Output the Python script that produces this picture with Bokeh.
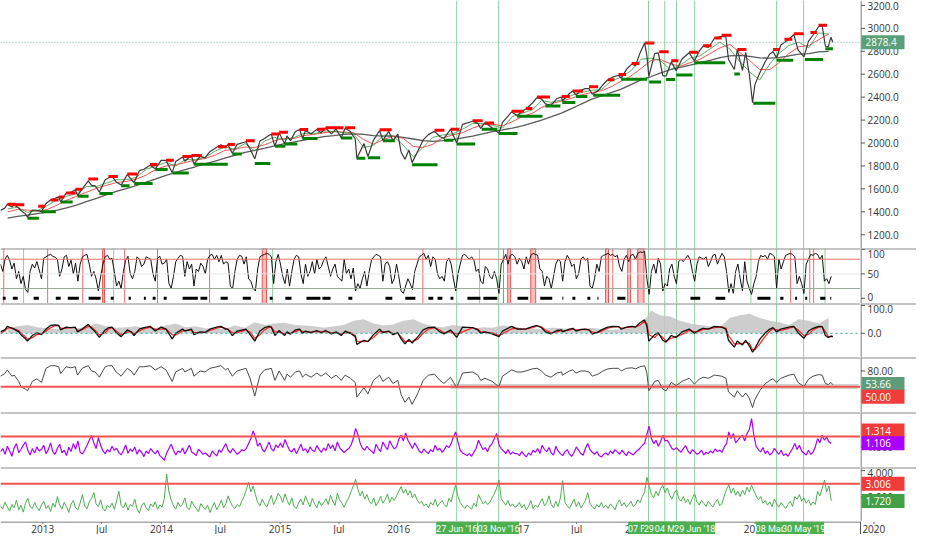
import pandas as pd
from bokeh.plotting import figure
from bokeh.models import Range1d, Span
from bokeh.core.properties import value
from bokeh.layouts import column, row
from bokeh.embed import file_html
from bokeh.resources import INLINE

# ---------------- DATA ----------------
price_dates = [
 "2012-08-24","2012-09-06","2012-09-14","2012-09-28","2012-10-05","2012-10-19","2012-10-26","2012-11-09","2012-11-15","2012-11-30","2012-12-14","2012-12-28",
 "2013-01-11","2013-01-25","2013-02-08","2013-02-19","2013-02-25","2013-03-14","2013-03-28","2013-04-11","2013-04-18","2013-05-02","2013-05-21","2013-05-31","2013-06-11","2013-06-24","2013-07-12","2013-07-22","2013-08-02","2013-08-15","2013-08-30","2013-09-18","2013-09-30","2013-10-09","2013-10-25","2013-11-08","2013-11-27","2013-12-13","2013-12-31",
 "2014-01-15","2014-02-03","2014-02-14","2014-03-07","2014-03-14","2014-04-03","2014-04-11","2014-04-30","2014-05-15","2014-05-30","2014-06-20","2014-07-03","2014-07-17","2014-07-24","2014-08-07","2014-08-22","2014-09-18","2014-10-01","2014-10-15","2014-10-31","2014-11-14","2014-11-28","2014-12-05","2014-12-16","2014-12-29",
 "2015-01-15","2015-01-22","2015-02-02","2015-02-17","2015-03-02","2015-03-11","2015-03-20","2015-04-06","2015-04-24","2015-05-07","2015-05-21","2015-06-08","2015-06-22","2015-07-08","2015-07-20","2015-08-05","2015-08-20","2015-08-25","2015-09-16","2015-09-28","2015-10-15","2015-11-03","2015-11-13","2015-12-01","2015-12-14","2015-12-29",
 "2016-01-08","2016-01-20","2016-02-01","2016-02-11","2016-02-29","2016-03-16","2016-04-01","2016-04-20","2016-05-06","2016-05-19","2016-06-08","2016-06-27","2016-07-15","2016-08-15","2016-08-31","2016-09-09","2016-09-22","2016-10-14","2016-11-04","2016-11-15","2016-12-13","2016-12-30",
 "2017-01-13","2017-01-26","2017-02-15","2017-03-01","2017-03-15","2017-03-27","2017-04-13","2017-05-01","2017-05-16","2017-05-18","2017-06-09","2017-06-19","2017-06-29","2017-07-14","2017-07-27","2017-08-08","2017-08-18","2017-09-05","2017-09-20","2017-10-05","2017-10-20","2017-11-07","2017-11-15","2017-12-01","2017-12-18","2017-12-29",
 "2018-01-12","2018-01-26","2018-02-02","2018-02-08","2018-02-26","2018-03-09","2018-03-23","2018-04-02","2018-04-18","2018-05-03","2018-05-21","2018-06-12","2018-06-28","2018-07-13","2018-07-25","2018-08-10","2018-08-29","2018-09-20","2018-10-03","2018-10-11","2018-10-29","2018-11-07","2018-11-23","2018-12-03","2018-12-14","2018-12-24","2018-12-31",
 "2019-01-15","2019-01-31","2019-02-15","2019-02-25","2019-03-08","2019-03-21","2019-04-15","2019-04-30","2019-05-13","2019-05-31","2019-06-14","2019-06-28","2019-07-15","2019-07-26","2019-08-05","2019-08-14","2019-08-22","2019-08-28"]
price_close = [
 1411,1432,1466,1441,1461,1433,1411,1380,1353,1416,1413,1402,
 1472,1503,1518,1530,1488,1563,1569,1593,1541,1598,1669,1631,1627,1573,1680,1695,1709,1661,1633,1725,1682,1656,1759,1771,1807,1775,1848,
 1848,1742,1838,1878,1841,1891,1815,1884,1870,1924,1963,1985,1958,1988,1910,1988,2011,1946,1862,2018,2039,2068,2075,1972,2090,
 1992,2063,2021,2100,2117,2040,2108,2080,2117,2088,2131,2080,2122,2046,2128,2100,2035,1868,1996,1881,2023,2109,2023,2102,2021,2078,
 1922,1859,1940,1829,1932,2027,2073,2102,2057,2040,2119,2001,2162,2190,2171,2128,2177,2133,2085,2180,2271,2239,
 2275,2297,2349,2396,2385,2341,2329,2388,2400,2365,2432,2453,2419,2459,2475,2474,2425,2457,2508,2552,2575,2591,2564,2642,2690,2674,
 2786,2873,2762,2581,2780,2786,2588,2582,2708,2630,2733,2787,2716,2801,2846,2833,2914,2931,2925,2728,2641,2814,2633,2790,2600,2351,2507,
 2610,2704,2776,2796,2743,2855,2905,2946,2812,2752,2887,2942,3014,3026,2844,2840,2923,2878.4]

# monthly moving averages (mid-month), Sep 2012 .. Aug 2019
ma_fast = [1425,1440,1395,1410,
 1455,1505,1535,1560,1620,1620,1650,1680,1680,1700,1770,1800,
 1830,1800,1855,1855,1875,1930,1965,1945,1995,1930,2020,2050,
 2030,2050,2085,2080,2105,2100,2090,2080,1960,1980,2070,2060,
 1980,1880,1960,2050,2070,2080,2120,2170,2170,2155,2130,2230,
 2260,2290,2370,2355,2375,2415,2440,2460,2465,2540,2575,2630,
 2730,2740,2720,2640,2680,2740,2760,2820,2880,2820,2710,2620,
 2550,2690,2780,2850,2880,2830,2960,2950]
ma_mid = [1400,1420,1415,1405,
 1420,1460,1500,1535,1570,1605,1630,1655,1665,1685,1720,1770,
 1800,1810,1830,1850,1865,1895,1935,1945,1965,1960,1985,2020,
 2040,2040,2065,2075,2090,2100,2095,2090,2030,1990,2030,2060,
 2040,1970,1960,1990,2045,2070,2090,2130,2160,2165,2150,2185,
 2230,2260,2310,2345,2365,2390,2420,2440,2455,2490,2540,2585,
 2650,2720,2730,2690,2670,2700,2730,2780,2830,2860,2790,2720,
 2640,2640,2700,2780,2840,2850,2900,2950]
ma_long = [1345,1360,1372,1385,
 1398,1415,1435,1458,1488,1518,1548,1578,1603,1628,1658,1688,
 1718,1743,1768,1793,1818,1843,1868,1893,1918,1935,1955,1975,
 1995,2010,2025,2040,2055,2065,2075,2080,2075,2065,2060,2060,
 2050,2035,2020,2015,2020,2030,2045,2060,2080,2100,2115,2130,
 2150,2175,2200,2230,2260,2300,2340,2380,2410,2440,2470,2510,
 2550,2580,2610,2640,2660,2680,2700,2720,2745,2760,2765,2755,
 2742,2740,2745,2760,2775,2780,2795,2800]

# pivot-high resistance segments (red) and pivot-low supports (green)
hi_start = ["2012-09-14","2012-10-05","2012-12-18","2013-01-25","2013-02-19","2013-03-14","2013-04-11","2013-05-21","2013-07-22","2013-09-18","2013-11-27",
 "2014-01-15","2014-03-07","2014-04-03","2014-06-24","2014-07-24","2014-09-18","2014-12-05","2014-12-29","2015-03-02","2015-04-24","2015-05-21","2015-07-20","2015-11-03",
 "2016-04-20","2016-06-08","2016-08-15","2016-09-22","2016-12-13","2017-01-26","2017-03-01","2017-05-16","2017-06-19","2017-08-08","2017-10-05","2017-11-07","2017-12-18",
 "2018-01-26","2018-03-12","2018-04-18","2018-06-12","2018-07-25","2018-08-29","2018-09-20","2018-11-07","2019-02-25","2019-04-01","2019-04-30","2019-06-20","2019-07-15"]
hi_end = ["2012-10-10","2012-11-05","2013-01-08","2013-02-18","2013-03-08","2013-04-12","2013-05-02","2013-06-20","2013-08-20","2013-10-18","2013-12-20",
 "2014-02-08","2014-04-05","2014-05-05","2014-07-20","2014-08-15","2014-10-15","2014-12-28","2015-01-25","2015-03-28","2015-05-20","2015-07-15","2015-08-20","2015-12-10",
 "2016-05-20","2016-07-05","2016-09-15","2016-10-20","2017-01-20","2017-02-15","2017-04-10","2017-06-10","2017-07-20","2017-09-05","2017-10-25","2017-11-30","2018-01-10",
 "2018-02-25","2018-04-10","2018-05-10","2018-07-10","2018-08-20","2018-09-20","2018-10-20","2018-12-05","2019-03-15","2019-04-25","2019-05-30","2019-07-10","2019-08-10"]
hi_level = [1466,1461,1448,1503,1530,1564,1597,1687,1709,1730,1813,
 1850,1883,1891,1968,1988,2019,2079,2093,2117,2120,2134,2133,2116,
 2111,2121,2194,2175,2278,2301,2401,2405,2453,2490,2552,2597,2694,
 2873,2795,2718,2791,2848,2917,2940,2815,2816,2905,2954,2964,3027]
lo_start = ["2012-11-15","2012-12-28","2013-02-25","2013-04-18","2013-06-24","2013-08-30","2013-10-09","2013-12-13","2014-02-05","2014-04-11","2014-08-07","2014-10-15","2014-12-16",
 "2015-01-15","2015-03-11","2015-07-07","2015-08-24","2015-09-28","2015-11-13","2016-02-11","2016-05-19","2016-06-27","2016-09-12","2016-11-04","2016-12-30",
 "2017-03-27","2017-05-18","2017-06-29","2017-08-21","2017-11-15","2018-02-09","2018-04-02","2018-05-03","2018-06-28","2018-10-29","2018-12-26","2019-03-08","2019-06-03","2019-08-05"]
lo_end = ["2012-12-20","2013-02-10","2013-04-03","2013-05-22","2013-08-04","2013-09-25","2013-12-05","2014-01-20","2014-03-26","2014-07-24","2014-09-05","2014-12-02","2015-01-17",
 "2015-02-23","2015-04-26","2015-08-11","2015-09-20","2015-11-05","2015-12-20","2016-04-29","2016-06-17","2016-08-23","2016-10-30","2016-12-31","2017-03-18",
 "2017-05-12","2017-06-27","2017-08-03","2017-11-12","2018-02-03","2018-03-18","2018-04-30","2018-06-22","2018-10-01","2018-11-15","2019-03-04","2019-04-28","2019-07-29","2019-08-28"]
lo_level = [1343,1400,1485,1536,1560,1627,1646,1768,1738,1814,1905,1821,1972,
 1992,2040,2044,1867,1872,2020,1810,2025,1991,2120,2084,2233,
 2322,2353,2406,2417,2557,2533,2553,2594,2699,2603,2346,2722,2728,2822]
last_price = 2878.4

# marked dates (vertical lines through all panes) and their labels
mark_dates = ["2016-06-27","2016-11-03","2018-02-07","2018-03-29","2018-05-04","2018-06-29","2019-03-08","2019-05-30"]
mark_labels = ["27 Jun '16","03 Nov '16","07 Feb '18","29 Mar '18","04 May '18","29 Jun '18","08 Mar '19","30 May '19"]

# pane 2: weekly oscillator (from 2012-08-24)
stoch_2012 = [70,55,80,88,78,60,72,40,55,30,45,18,12,55,70,62,75,58,40]
stoch_2013 = [82,85,88,90,86,84,80,45,60,85,88,65,78,50,72,35,70,85,88,90,70,45,55,40,15,45,70,85,88,80,82,55,25,35,20,55,78,86,50,40,55,85,80,65,70,85,82,80,50,35,82,86]
stoch_2014 = [70,72,80,30,20,45,75,82,88,86,45,75,60,70,25,60,55,72,65,50,80,88,90,80,88,75,88,70,75,72,25,20,55,80,88,86,70,85,40,35,20,15,60,85,88,90,92,90,85,30,75,90]
stoch_2015 = [70,45,30,60,25,55,80,88,85,50,30,70,45,55,75,50,80,60,65,78,85,65,45,60,70,45,40,35,80,50,60,40,62,15,30,20,40,55,25,55,78,85,90,88,85,35,70,75,65,30,40,70]
stoch_2016 = [45,15,10,25,40,30,18,55,70,85,88,92,80,88,65,85,80,50,40,45,35,75,82,70,40,15,50,70,88,90,85,80,85,78,55,60,35,30,65,60,45,40,55,40,10,70,80,90,70,88,90,85]
stoch_2017 = [70,82,75,60,85,70,88,92,90,88,60,55,25,45,40,20,45,70,80,75,35,75,88,80,65,70,40,50,80,85,78,82,25,20,40,70,55,85,88,90,92,88,90,85,88,65,55,80,88,75,88,90]
stoch_2018 = [80,92,95,94,96,40,8,55,70,50,82,70,15,30,25,60,70,45,30,75,80,75,82,88,80,55,35,70,85,82,80,85,65,75,88,90,70,82,92,85,55,12,30,10,55,70,40,15,75,35,20,8]
stoch_2019 = [30,45,75,88,85,88,80,92,90,85,20,80,60,75,88,90,92,90,85,30,45,30,10,70,80,90,88,92,90,80,88,35,40,30,45]
stoch = stoch_2012 + stoch_2013 + stoch_2014 + stoch_2015 + stoch_2016 + stoch_2017 + stoch_2018 + stoch_2019

sig_dash_start = ["2012-08-31","2012-10-01","2012-12-04","2013-02-10","2013-03-19","2013-05-22","2013-07-29","2013-09-22","2013-11-08","2013-12-05","2014-01-08","2014-03-07","2014-05-01","2014-07-02","2014-09-08","2014-11-30","2015-01-17","2015-03-23",
 "2015-05-11","2015-07-30","2015-11-21","2016-01-21","2016-04-01","2016-04-29","2016-06-08","2016-07-30","2016-09-17","2016-12-31","2017-03-11","2017-05-18","2017-06-18","2017-08-03","2017-09-03","2017-11-03",
 "2018-06-16","2018-09-01","2019-01-08","2019-03-19","2019-05-04","2019-06-04","2019-07-20","2019-08-20"]
sig_dash_end = ["2012-09-09","2012-10-16","2012-12-20","2013-02-25","2013-04-22","2013-06-28","2013-08-07","2013-09-29","2013-11-14","2013-12-14","2014-01-17","2014-04-23","2014-05-22","2014-07-24","2014-10-03","2014-12-09","2015-02-05","2015-05-05",
 "2015-06-05","2015-08-11","2015-12-12","2016-02-21","2016-04-16","2016-05-14","2016-06-17","2016-09-08","2016-10-30","2017-02-02","2017-04-17","2017-05-21","2017-06-27","2017-08-12","2017-09-06","2017-11-28",
 "2018-07-16","2018-10-01","2019-02-17","2019-03-29","2019-05-10","2019-06-10","2019-08-05","2019-08-23"]
red_line_dates = ["2012-09-03","2013-01-16","2013-05-04","2013-09-10","2013-12-20","2014-05-29","2016-03-15","2016-11-18","2017-10-20","2019-04-20","2019-06-18","2019-06-30"]
red_band_start = ["2013-07-04","2014-11-07","2016-12-01","2017-02-10","2017-09-28","2017-12-05","2018-01-05"]
red_band_end = ["2013-07-10","2014-11-20","2016-12-10","2017-02-25","2017-10-07","2017-12-14","2018-01-24"]
green_line_dates = ["2012-11-03","2013-08-07","2014-12-09","2016-09-05","2018-12-19","2019-08-04"]

# pane 3: momentum (black), signal (red) on price dates; shaded envelope monthly
mom = [5,12,25,18,15,5,-5,-20,-28,-8,2,-5,
 15,28,30,28,12,22,20,22,5,15,32,18,5,-15,12,20,22,2,-12,12,5,-8,15,20,25,8,22,
 15,-20,0,15,8,15,-5,5,3,15,22,25,15,15,-8,8,15,-5,-28,8,20,25,22,-8,10,
 -8,5,-3,12,15,0,8,2,10,2,10,-2,5,-8,8,0,-12,-40,-25,-30,-5,15,2,8,-5,2,
 -20,-38,-22,-35,-12,12,20,22,5,-2,12,-15,22,20,12,0,5,-2,-12,8,25,15,
 15,16,24,28,20,5,-2,10,12,5,15,18,8,14,15,12,-3,5,15,22,25,24,15,22,25,22,
 38,48,25,-28,-5,2,-25,-32,-8,-15,5,15,0,12,18,15,25,22,15,-25,-50,-28,-42,-25,-45,-68,-55,
 -22,0,15,20,5,15,22,25,2,-18,8,18,25,24,-8,-15,-10,-12]
mom_signal = [0,8,18,20,16,10,0,-12,-22,-16,-4,-3,
 8,20,27,28,18,18,20,20,10,12,25,22,10,-6,2,15,20,8,-6,4,6,-2,8,16,22,14,15,
 16,-5,-6,8,10,12,3,2,3,10,18,22,18,15,2,2,12,4,-18,-5,12,22,22,5,4,
 -2,0,0,6,13,6,5,4,7,5,7,2,2,-3,2,3,-7,-28,-30,-28,-15,6,6,6,0,-1,
 -12,-30,-28,-30,-20,0,15,20,12,2,6,-3,5,20,15,6,4,2,-8,-2,16,18,
 15,15,20,26,23,12,2,5,10,8,11,16,12,12,14,13,4,2,10,18,23,24,18,20,23,23,
 30,43,35,-5,-15,-2,-15,-28,-18,-12,-4,10,6,7,15,16,20,23,18,-8,-38,-38,-36,-32,-36,-58,-60,
 -38,-12,8,17,12,10,18,23,12,-8,-4,12,22,24,5,-12,-12,-11]
envelope = [20,25,30,22,
 18,15,20,18,22,35,25,20,22,25,18,20,
 28,35,22,25,18,15,15,28,20,40,30,35,
 38,30,28,25,20,25,30,45,50,35,28,32,
 45,50,35,25,22,30,25,15,22,20,28,25,
 18,15,15,20,18,15,12,20,15,12,15,18,
 30,82,65,60,45,35,30,25,22,55,65,70,
 55,45,40,30,50,45,35,55]

# pane 4: strength index on price dates
rsi = [70,75,82,70,72,60,50,45,42,60,65,58,
 85,90,90,88,75,88,86,88,72,85,90,80,78,68,88,90,90,78,70,85,80,72,88,88,90,82,88,
 82,60,78,85,78,85,70,80,78,85,88,90,82,85,70,80,85,65,32,72,82,84,85,62,80,
 62,74,68,78,80,68,74,68,76,70,76,66,72,62,72,66,58,30,48,36,62,72,60,68,56,62,
 35,20,30,16,38,62,72,74,62,56,68,48,76,78,72,62,66,60,50,70,82,78,
 78,80,84,85,80,72,68,76,78,72,80,82,76,80,80,78,70,74,80,84,85,85,80,85,86,84,
 88,90,76,42,60,62,45,42,58,52,60,66,55,64,68,66,72,70,66,40,30,42,30,38,28,10,25,
 42,55,62,65,58,66,72,74,58,50,64,70,73,72,56,54,58,53.66]
rsi_level = 50.0
rsi_box = ("2016-06-08", "2019-11-15", 45.7, 55.0)

# pane 5: weekly ratio (purple)
pur_2012 = [0.85,0.95,0.78,1.02,0.88,0.72,0.98,1.10,0.83,0.92,1.05,1.15,0.90,0.76,0.95,0.82,1.00,0.88,0.93]
pur_2013 = [1.05,0.80,0.92,1.12,0.85,0.78,0.96,1.08,0.82,0.90,0.74,0.99,0.86,1.10,0.93,1.18,0.84,0.79,0.91,1.04,1.20,1.35,1.12,0.95,1.28,1.05,0.88,0.80,0.92,0.85,1.02,0.90,0.96,0.83,0.76,0.89,1.06,0.81,0.94,0.86,1.00,0.78,0.92,0.84,0.71,0.88,0.80,0.95,0.86,0.79,0.90,0.74]
pur_2014 = [0.68,0.60,0.82,0.95,1.08,0.90,0.76,0.88,0.83,0.97,0.79,0.92,1.05,0.85,0.80,0.74,0.93,0.86,0.78,0.82,0.75,0.70,0.88,0.80,0.73,0.91,0.84,0.98,1.10,0.90,0.82,0.95,0.87,0.78,0.83,0.92,0.88,0.95,1.10,1.25,1.48,1.30,1.02,1.12,0.93,0.85,1.00,1.15,0.94,0.88,1.06,0.98]
pur_2015 = [1.12,0.98,1.22,1.05,0.90,0.85,0.96,0.80,0.93,1.08,0.88,0.95,0.82,1.00,0.90,0.86,1.04,0.92,0.84,0.97,0.89,1.10,0.95,1.06,0.88,1.15,0.98,0.90,0.83,0.90,0.95,1.05,1.25,1.55,1.38,1.12,0.96,0.90,1.02,0.93,0.88,0.80,1.08,0.95,0.86,1.15,1.02,0.92,1.18,1.05,0.94,1.00]
pur_2016 = [1.22,1.35,1.18,1.42,1.20,1.08,0.95,1.12,1.00,0.88,0.82,0.94,0.86,0.80,0.92,0.85,1.05,0.90,0.96,0.84,0.92,1.04,0.98,1.10,1.30,1.45,1.15,0.90,0.82,0.78,0.74,0.80,0.72,0.85,0.96,1.20,1.05,0.92,0.98,0.86,1.02,1.10,1.25,1.40,1.08,0.94,0.88,0.80,0.92,0.78,0.84,0.80]
pur_2017 = [0.80,0.74,0.86,0.78,0.70,0.82,0.76,0.90,0.84,0.95,0.80,1.05,0.92,0.86,0.98,0.82,0.76,1.02,0.88,0.80,0.74,0.85,0.92,0.78,0.72,0.84,1.00,0.90,0.80,0.75,0.96,1.10,0.92,0.84,0.78,0.86,0.74,0.70,0.78,0.82,0.76,0.88,0.80,0.92,0.85,0.78,0.90,0.82,0.74,0.86,0.80,0.76]
pur_2018 = [0.84,0.90,0.96,1.05,1.10,1.38,1.62,1.25,1.10,1.20,1.02,1.15,1.35,1.18,1.20,1.08,0.95,0.92,0.98,0.90,0.84,0.95,1.04,0.88,0.80,0.92,0.85,0.78,0.82,0.90,0.76,0.84,0.80,0.88,0.82,0.94,0.86,0.90,0.84,1.00,1.10,1.45,1.25,1.40,1.12,1.20,1.30,1.35,1.18,1.40,1.52,1.85]
pur_2019 = [1.35,1.02,0.92,0.85,0.98,0.80,0.88,0.76,0.82,0.96,0.86,0.78,0.90,0.74,0.80,0.72,0.84,0.95,1.10,0.92,1.05,0.88,0.82,0.76,0.90,0.78,0.84,1.00,1.25,1.12,1.35,1.20,1.30,1.15,1.106]
purple = pur_2012 + pur_2013 + pur_2014 + pur_2015 + pur_2016 + pur_2017 + pur_2018 + pur_2019
purple_level = 1.314

# pane 6: weekly ratio (green)
grn_2012 = [1.35,1.10,1.62,1.28,0.95,1.45,1.20,1.78,1.05,1.40,0.88,1.55,1.92,1.30,1.15,1.60,1.25,0.98,1.42]
grn_2013 = [1.70,1.15,1.38,0.92,1.55,1.25,2.05,1.40,1.10,1.62,1.30,0.85,1.48,1.75,1.20,1.05,1.58,2.20,1.35,1.12,1.65,1.90,2.35,1.50,1.28,1.80,1.15,0.95,1.40,1.22,1.55,1.08,1.72,2.45,1.38,1.18,1.60,1.02,1.45,1.30,1.85,1.12,0.80,1.35,1.58,1.20,0.98,1.50,1.28,1.65,1.10,1.42]
grn_2014 = [1.25,1.90,3.75,2.40,1.80,1.35,1.10,1.62,1.28,1.48,1.95,1.20,1.05,1.70,1.38,1.15,0.90,1.52,1.25,1.08,1.40,0.85,1.22,1.60,1.05,1.35,1.78,1.20,1.50,2.10,1.65,1.30,1.15,1.45,1.28,1.70,2.05,2.55,3.13,2.40,2.85,2.20,1.60,1.35,1.85,1.50,1.25,1.70,2.15,1.45,1.80,2.30]
grn_2015 = [2.05,1.60,2.25,1.75,1.40,1.95,1.30,1.15,1.58,1.85,1.42,2.10,1.65,1.28,1.90,1.50,1.20,1.72,1.35,1.60,1.88,1.45,2.15,1.70,1.38,2.30,1.80,1.55,1.25,1.65,1.95,2.40,2.85,3.35,2.60,2.10,2.45,1.85,2.20,1.70,1.50,1.95,1.35,1.65,2.05,1.55,1.80,2.25,1.60,2.00,1.75,2.10]
grn_2016 = [2.45,2.80,2.30,2.60,2.15,2.50,1.95,2.25,1.80,1.55,1.70,1.35,1.50,1.20,1.62,1.40,1.85,1.30,1.55,1.75,1.45,1.25,1.90,1.65,2.35,2.90,2.05,1.60,1.35,1.15,1.40,1.25,1.10,1.55,1.30,2.20,1.85,1.50,1.70,1.45,1.60,1.95,2.25,2.70,3.30,1.90,1.65,1.40,1.75,1.30,1.50,1.25]
grn_2017 = [1.35,1.60,1.20,1.45,1.05,1.30,1.75,1.15,1.40,1.25,1.55,1.90,1.35,1.60,2.10,1.45,1.20,1.70,1.30,1.95,3.25,1.60,1.35,1.15,1.50,1.85,1.30,1.65,1.20,1.45,1.75,2.35,1.55,1.30,1.10,1.45,1.25,1.60,1.20,1.40,1.15,1.50,1.30,1.05,1.55,1.80,1.35,1.60,1.25,1.45,1.70,1.30]
grn_2018 = [1.45,1.80,1.60,2.05,2.40,3.50,2.85,2.20,1.95,2.45,2.10,2.65,2.90,2.35,2.70,2.15,1.85,2.30,2.55,1.90,1.70,2.05,1.60,1.85,1.45,1.95,2.25,1.65,1.40,1.75,1.55,1.30,1.70,1.45,1.25,1.60,1.85,1.35,1.50,2.10,2.60,2.95,2.30,2.70,2.15,2.45,2.05,2.55,2.20,2.75,2.40,2.90]
grn_2019 = [2.50,2.10,1.80,2.05,1.55,1.75,1.40,1.65,1.30,1.85,1.50,1.25,1.60,1.35,1.15,1.45,1.70,1.30,2.05,1.85,2.20,1.70,1.95,1.55,1.80,1.40,1.65,1.45,2.45,2.10,2.65,3.30,2.40,2.85,1.72]
green = grn_2012 + grn_2013 + grn_2014 + grn_2015 + grn_2016 + grn_2017 + grn_2018 + grn_2019
green_level = 3.006

tick_dates = ["2013-01-01","2013-07-01","2014-01-01","2014-07-01","2015-01-01","2015-07-01","2016-01-01","2016-07-01",
              "2017-01-01","2017-07-01","2018-01-01","2018-07-01","2019-01-01","2019-07-01","2020-01-01"]
tick_labels = ["2013","Jul","2014","Jul","2015","Jul","2016","Jul","2017","Jul","2018","Jul","2019","Jul","2020"]

# ---------------- HELPERS ----------------
def ms(s):
    return pd.Timestamp(s).value / 1e6

def msl(lst):
    return [ms(s) for s in lst]

def weekly(n):
    return [d.value / 1e6 for d in pd.date_range("2012-08-24", periods=n, freq="7D")]

FONT = "Open Sans"
BFONT = "Roboto"
FW = 860
SW = 56
X0, X1 = ms("2012-08-24"), ms("2019-11-21")
XR = Range1d(start=X0, end=X1)
VLINE = "#8fd19e"
AXC = "#555555"
SEP = "#8a8a8a"

def base_fig(w, h, xr, yr):
    p = figure(frame_width=w, frame_height=h, x_range=xr, y_range=yr,
               x_axis_location=None, y_axis_location=None,
               output_backend="svg", toolbar_location=None,
               min_border=0, min_border_left=0, min_border_right=0,
               min_border_top=0, min_border_bottom=0)
    p.grid.visible = False
    p.outline_line_color = None
    return p

def panel(h, y0, y1, sep=True):
    p = base_fig(FW, h, XR, Range1d(y0, y1))
    if sep:
        p.add_layout(Span(location=y1, dimension="width", line_color=SEP, line_width=2))
    for d in mark_dates:
        p.add_layout(Span(location=ms(d), dimension="height", line_color=VLINE,
                          line_width=1, level="underlay"))
    return p

def side(p, ticks, fmt, sep=True):
    y0, y1 = p.y_range.start, p.y_range.end
    h = p.frame_height
    s = base_fig(SW, h, Range1d(0, SW), p.y_range)
    s.segment(x0=[0.5], y0=[y0], x1=[0.5], y1=[y1], line_color=AXC, line_width=1)
    pad_top = 5.5 * (y1 - y0) / h
    pad_bot = 7.0 * (y1 - y0) / h
    ty = [min(max(t, y0 + pad_bot), y1 - pad_top) for t in ticks]
    s.segment(x0=[0.5] * len(ticks), y0=ticks, x1=[4.5] * len(ticks), y1=ticks, line_color=AXC, line_width=1)
    s.text(x=[7] * len(ticks), y=ty, text=[fmt % t for t in ticks], text_align="left",
           text_baseline="middle", text_font=value(FONT), text_font_size="10px", text_color="#333333")
    if sep:
        s.add_layout(Span(location=y1, dimension="width", line_color=SEP, line_width=2))
    return s

def badge(s, y, text, color):
    s.rect(x=[22.5], y=[y], width=[43], height=[14], height_units="screen",
           fill_color=color, line_color=None)
    s.text(x=[5], y=[y], text=[text], text_align="left", text_baseline="middle",
           text_font=value(FONT), text_font_size="10px", text_color="white")

# ---------------- MAIN PANE ----------------
pd_ms = msl(price_dates)
m_ms = [d.value / 1e6 + 14 * 86400000 for d in pd.date_range("2012-09-01", periods=len(ma_long), freq="MS")]

p1 = panel(248, 1080, 3243, sep=False)
p1.line(m_ms, ma_long, color="#5a5a5a", line_width=1.3)
p1.line(m_ms, ma_mid, color="#e53935", line_width=1, alpha=0.85)
p1.line(m_ms, ma_fast, color="#43a047", line_width=1, alpha=0.85)
p1.line(pd_ms, price_close, color="#3a3a3a", line_width=1.2)
p1.segment(x0=msl(hi_start), y0=hi_level, x1=msl(hi_end), y1=hi_level, line_color="#ff0000", line_width=3)
p1.segment(x0=msl(lo_start), y0=lo_level, x1=msl(lo_end), y1=lo_level, line_color="#008000", line_width=3)
p1.add_layout(Span(location=last_price, dimension="width", line_color="#6fae98", line_width=1, line_dash="1 2"))
s1 = side(p1, list(range(1200, 3201, 200)), "%.1f", sep=False)
badge(s1, last_price, "2878.4", "#5a9f78")

# ---------------- PANE 2 ----------------
w_st = weekly(len(stoch))
p2 = panel(55, -10.7, 102)
p2.quad(left=msl(red_band_start), right=msl(red_band_end), bottom=-10.7, top=102,
        fill_color="#f48a8a", fill_alpha=0.55, line_color="#ef5350", line_width=1)
p2.segment(x0=msl(red_line_dates), y0=-10.7, x1=msl(red_line_dates), y1=102, line_color="#f06a6a", line_width=1)
p2.segment(x0=msl(green_line_dates), y0=-10.7, x1=msl(green_line_dates), y1=102, line_color=VLINE, line_width=1)
p2.add_layout(Span(location=80, dimension="width", line_color="#e57368", line_width=1))
p2.add_layout(Span(location=50, dimension="width", line_color="#e6e6e6", line_width=1))
p2.add_layout(Span(location=20, dimension="width", line_color="#9aaa9a", line_width=1))
p2.line(w_st, stoch, color="#111111", line_width=1)
p2.segment(x0=msl(sig_dash_start), y0=0, x1=msl(sig_dash_end), y1=0, line_color="#000000", line_width=3)
s2 = side(p2, [0, 50, 100], "%d")

# ---------------- PANE 3 ----------------
p3 = panel(54, -87, 107)
p3.varea(x=m_ms, y1=[0] * len(envelope), y2=envelope, fill_color="#c4c4c4", fill_alpha=0.85)
p3.add_layout(Span(location=0, dimension="width", line_color="#26a69a", line_width=1, line_dash="2 3"))
p3.line(pd_ms, mom_signal, color="#ff1f1f", line_width=1.2)
p3.line(pd_ms, mom, color="#111111", line_width=1.3)
s3 = side(p3, [0, 100], "%.1f")

# ---------------- PANE 4 ----------------
p4 = panel(55, 0.6, 105.7)
p4.quad(left=[ms(rsi_box[0])], right=[ms(rsi_box[1])], bottom=[rsi_box[2]], top=[rsi_box[3]],
        fill_color="#c6c6c6", fill_alpha=0.8, line_color=None)
p4.add_layout(Span(location=rsi_level, dimension="width", line_color="#ef5350", line_width=2))
p4.line(pd_ms, rsi, color="#4a4a4a", line_width=1)
s4 = side(p4, [80], "%.2f")
badge(s4, 55.0, "53.66", "#5f9d7a")
badge(s4, 30.7, "50.00", "#f23b3b")

# ---------------- PANE 5 ----------------
p5 = panel(55, 0.384, 2.03)
p5.add_layout(Span(location=purple_level, dimension="width", line_color="#ef5350", line_width=2))
p5.line(weekly(len(purple)), purple, color="#aa00ff", line_width=1.2)
s5 = side(p5, [1.0], "%.3f")
badge(s5, 1.49, "1.314", "#f23b3b")
badge(s5, 1.106, "1.106", "#aa00ff")

# ---------------- PANE 6 ----------------
p6 = panel(54, 0.17, 4.24)
p6.add_layout(Span(location=green_level, dimension="width", line_color="#ef5350", line_width=2))
p6.line(weekly(len(green)), green, color="#4caf50", line_width=1)
s6 = side(p6, [2.0, 4.0], "%.3f")
badge(s6, 3.006, "3.006", "#f23b3b")
badge(s6, 1.72, "1.720", "#43a047")

# ---------------- TIME AXIS STRIP ----------------
AH = 13
xr_axis = Range1d(start=X0, end=X0 + (X1 - X0) * (FW + SW) / FW)
ax = base_fig(FW + SW, AH, xr_axis, Range1d(0, AH))
tk = msl(tick_dates)
ax.segment(x0=[X0], y0=[AH - 0.5], x1=[X1], y1=[AH - 0.5], line_color=AXC, line_width=1)
ax.segment(x0=[X1], y0=[0], x1=[X1], y1=[AH], line_color=AXC, line_width=1)
ax.segment(x0=tk, y0=[AH - 0.5] * len(tk), x1=tk, y1=[AH - 2.5] * len(tk), line_color="#777777", line_width=1)
ax.text(x=tk, y=[AH / 2.0 - 0.5] * len(tk), text=tick_labels, text_align="center", text_baseline="middle",
        text_font=value(FONT), text_font_size="10px", text_color="#333333")
for d, t in zip(mark_dates, mark_labels):
    ax.rect(x=[ms(d)], y=[AH / 2.0], width=[41], width_units="screen", height=[AH],
            fill_color="#4caf50", line_color=None)
    ax.text(x=[ms(d)], y=[AH / 2.0 - 0.5], text=[t], text_align="center", text_baseline="middle",
            text_font=value(BFONT), text_font_size="9px", text_color="white")

layout = column(row(p1, s1), row(p2, s2), row(p3, s3), row(p4, s4), row(p5, s5), row(p6, s6), ax, spacing=0)
open("out.html", "w").write(file_html(layout, INLINE))
